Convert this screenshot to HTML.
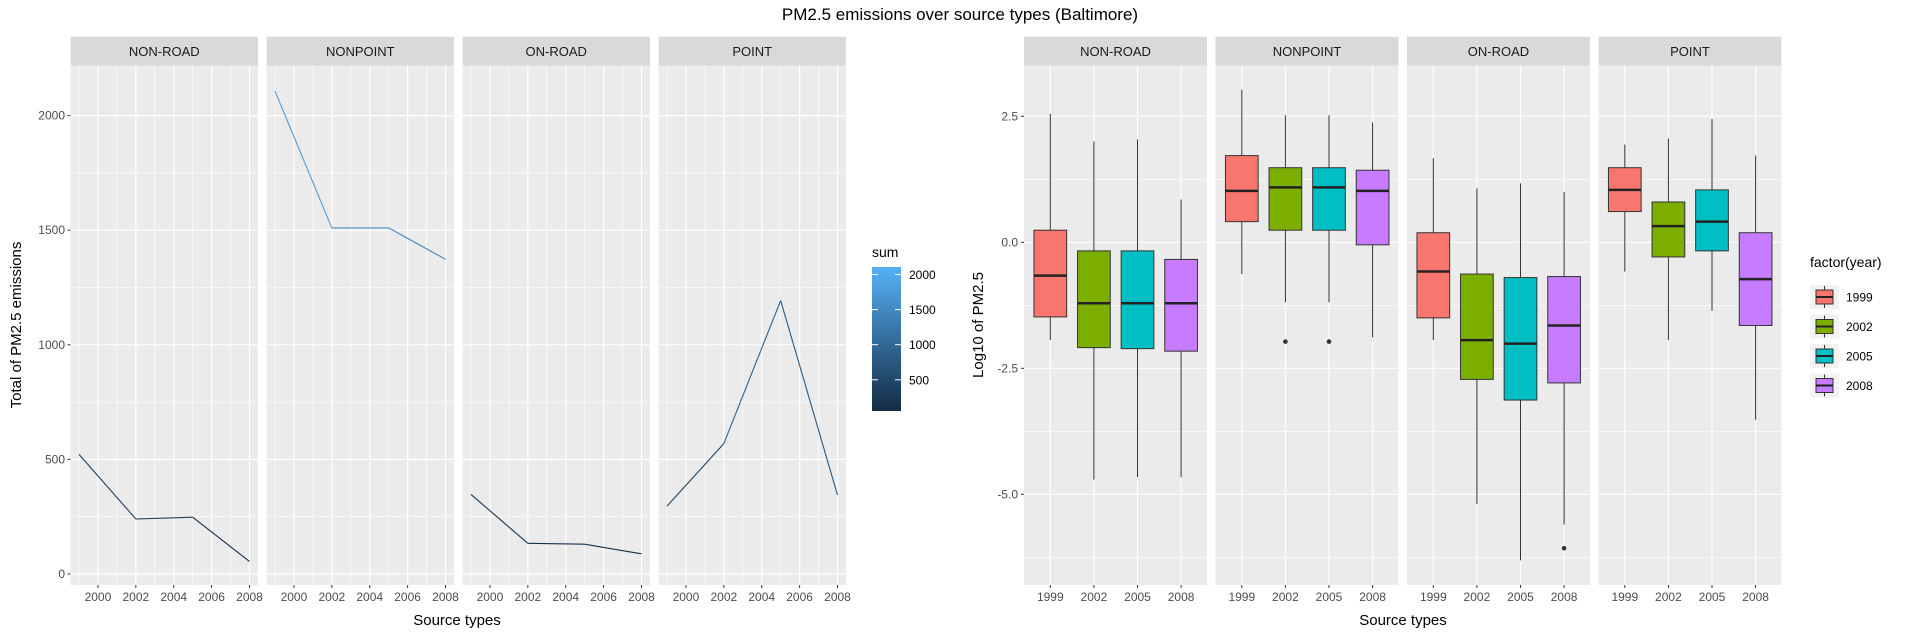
<!DOCTYPE html>
<html><head><meta charset="utf-8"><style>
html,body{margin:0;padding:0;background:#fff;}
svg{display:block;font-family:"Liberation Sans",Arial,sans-serif;}
</style></head><body>
<svg id="chart" width="1920" height="640" viewBox="0 0 1920 640" xmlns="http://www.w3.org/2000/svg">
<defs><linearGradient id="sumgrad" x1="0" y1="1" x2="0" y2="0"><stop offset="0" stop-color="#132B43"/><stop offset="1" stop-color="#56B1F7"/></linearGradient></defs>
</svg>
<script>
const sources = ["NON-ROAD","NONPOINT","ON-ROAD","POINT"];
const years = [1999,2002,2005,2008];
const yearTicks = [2000,2002,2004,2006,2008];
const sumNonRoad = [522,240,248,55];
const sumNonPoint = [2107,1510,1510,1373];
const sumOnRoad = [347,134,130,88];
const sumPoint = [296,569,1193,345];
const sumTicks = [0,500,1000,1500,2000];
const legendTicks = [500,1000,1500,2000];
// box stats per source: [low, q1, median, q3, high]
const boxNonRoad = [[-1.94,-1.48,-0.66,0.24,2.55],[-4.71,-2.09,-1.21,-0.17,2.0],[-4.66,-2.11,-1.21,-0.17,2.04],[-4.66,-2.16,-1.21,-0.34,0.85]];
const boxNonPoint = [[-0.63,0.41,1.02,1.72,3.03],[-1.19,0.24,1.09,1.48,2.52],[-1.19,0.24,1.09,1.48,2.52],[-1.89,-0.05,1.02,1.43,2.38]];
const boxOnRoad = [[-1.94,-1.5,-0.58,0.19,1.67],[-5.19,-2.72,-1.94,-0.63,1.07],[-6.31,-3.13,-2.01,-0.7,1.17],[-5.6,-2.79,-1.65,-0.68,1.0]];
const boxPoint = [[-0.58,0.61,1.04,1.48,1.94],[-1.94,-0.29,0.32,0.8,2.06],[-1.36,-0.17,0.41,1.04,2.45],[-3.52,-1.65,-0.73,0.19,1.72]];
const outNonPoint = [[],[-1.97],[-1.97],[]];
const outOnRoad = [[],[],[],[-6.07]];
const logTicks = [-5,-2.5,0,2.5];
const logTickLabels = ["-5.0","-2.5","0.0","2.5"];
const fills = ["#F8766D","#7CAE00","#00BFC4","#C77CFF"];

const svg = document.getElementById('chart');
const NS = "http://www.w3.org/2000/svg";
function mk(tag, attrs, parent, text){
  const e = document.createElementNS(NS, tag);
  for (const k in attrs) e.setAttribute(k, attrs[k]);
  if (text !== undefined) e.textContent = text;
  (parent||svg).appendChild(e);
  return e;
}
const sums = [sumNonRoad,sumNonPoint,sumOnRoad,sumPoint];
const boxes = [boxNonRoad,boxNonPoint,boxOnRoad,boxPoint];
const outs = [[[],[],[],[]],outNonPoint,outOnRoad,[[],[],[],[]]];
const TOP=66, BOT=585;

let t = mk('text',{x:960,y:20,'text-anchor':'middle','font-size':17,fill:'#000'},svg,'PM2.5 emissions over source types (Baltimore)');



// ---------- LEFT: line facets ----------
const yL = v => 574 - v*(57.3/250);
const LPW = 187.5, LX0 = 70.5, LSTEP = 196;
const allSums = sums.flat();
const sMin = Math.min(...allSums), sMax = Math.max(...allSums);
function lerpCol(v){
  const a=[0x13,0x2B,0x43], b=[0x56,0xB1,0xF7];
  const f=(v-sMin)/(sMax-sMin);
  return 'rgb('+a.map((c,i)=>Math.round(c+(b[i]-c)*f)).join(',')+')';
}
sources.forEach((src,p)=>{
  const px = LX0 + p*LSTEP;
  const xL = yr => px + 8.5 + (yr-1999)*(LPW-17)/9;
  const g = mk('g',{});
  
  
  mk('rect',{x:px,y:36.7,width:LPW,height:29,fill:'#D9D9D9'},g);
  const st = mk('text',{x:px+LPW/2,y:56,'text-anchor':'middle','font-size':13,fill:'#1A1A1A'},g,src);
  
  
  mk('rect',{x:px,y:TOP,width:LPW,height:BOT-TOP,fill:'#EBEBEB'},g);
  for (let v=250; v<2250; v+=500){ if (yL(v)>TOP) mk('line',{x1:px,x2:px+LPW,y1:yL(v),y2:yL(v),stroke:'#fff','stroke-width':0.6},g); }
  for (let yr=1999; yr<2009; yr+=2) mk('line',{x1:xL(yr),x2:xL(yr),y1:TOP,y2:BOT,stroke:'#fff','stroke-width':0.6},g);
  sumTicks.forEach(v=>mk('line',{x1:px,x2:px+LPW,y1:yL(v),y2:yL(v),stroke:'#fff','stroke-width':1.2},g));
  yearTicks.forEach(yr=>{
    mk('line',{x1:xL(yr),x2:xL(yr),y1:TOP,y2:BOT,stroke:'#fff','stroke-width':1.2},g);
    mk('line',{x1:xL(yr),x2:xL(yr),y1:BOT,y2:BOT+3,stroke:'#333'},g);
    const tl = mk('text',{x:xL(yr),y:BOT+16,'text-anchor':'middle','font-size':12,fill:'#4D4D4D'},g,String(yr));
    
    
  });
  const d = sums[p];
  for (let i=0;i<years.length-1;i++){
    const seg = mk('line',{x1:xL(years[i]),y1:yL(d[i]),x2:xL(years[i+1]),y2:yL(d[i+1]),stroke:lerpCol((d[i]+d[i+1])/2),'stroke-width':1.1},g);
    
    
  }
});
sumTicks.forEach(v=>{
  mk('line',{x1:67.5,x2:70.5,y1:yL(v),y2:yL(v),stroke:'#333'});
  const tl = mk('text',{x:65,y:yL(v)+4,'text-anchor':'end','font-size':12,fill:'#4D4D4D'},svg,String(v));
  
  
});
t = mk('text',{x:0,y:0,transform:'translate(21,325) rotate(-90)','text-anchor':'middle','font-size':15,fill:'#000'},svg,'Total of PM2.5 emissions');


t = mk('text',{x:457,y:625,'text-anchor':'middle','font-size':15,fill:'#000'},svg,'Source types');


// colourbar legend
const lg = mk('g',{});


mk('text',{x:872,y:257,'font-size':14,fill:'#000'},lg,'sum');
const cbY = v => 411 - (v-sMin)*(144/(sMax-sMin));
mk('rect',{x:872,y:267,width:29,height:144,fill:'url(#sumgrad)'},lg);
legendTicks.forEach(v=>{
  mk('line',{x1:872,x2:878,y1:cbY(v),y2:cbY(v),stroke:'#fff'},lg);
  mk('line',{x1:895,x2:901,y1:cbY(v),y2:cbY(v),stroke:'#fff'},lg);
  mk('text',{x:909,y:cbY(v)+4.5,'font-size':12,fill:'#000'},lg,String(v));
});

// ---------- RIGHT: box facets ----------
const yR = v => 242.3 - v*50.4;
const RPW = 183, RX0 = 1024, RSTEP = 191.5;
sources.forEach((src,p)=>{
  const px = RX0 + p*RSTEP;
  const xR = i => px + 26.3 + i*43.6;
  const g = mk('g',{});
  
  
  mk('rect',{x:px,y:36.7,width:RPW,height:29,fill:'#D9D9D9'},g);
  const st = mk('text',{x:px+RPW/2,y:56,'text-anchor':'middle','font-size':13,fill:'#1A1A1A'},g,src);
  
  
  mk('rect',{x:px,y:TOP,width:RPW,height:BOT-TOP,fill:'#EBEBEB'},g);
  [-6.25,-3.75,-1.25,1.25].forEach(v=>mk('line',{x1:px,x2:px+RPW,y1:yR(v),y2:yR(v),stroke:'#fff','stroke-width':0.6},g));
  logTicks.forEach(v=>mk('line',{x1:px,x2:px+RPW,y1:yR(v),y2:yR(v),stroke:'#fff','stroke-width':1.2},g));
  years.forEach((yr,i)=>{
    mk('line',{x1:xR(i),x2:xR(i),y1:TOP,y2:BOT,stroke:'#fff','stroke-width':1.2},g);
    mk('line',{x1:xR(i),x2:xR(i),y1:BOT,y2:BOT+3,stroke:'#333'},g);
    const tl = mk('text',{x:xR(i),y:BOT+16,'text-anchor':'middle','font-size':12,fill:'#4D4D4D'},g,String(yr));
    
    
  });
  boxes[p].forEach((b,i)=>{
    const cx = xR(i), w = 32.7;
    const bg = mk('g',{},g);
    
    
    mk('line',{x1:cx,x2:cx,y1:yR(b[4]),y2:yR(b[0]),stroke:'#333','stroke-width':1},bg);
    mk('rect',{x:cx-w/2,y:yR(b[3]),width:w,height:yR(b[1])-yR(b[3]),fill:fills[i],stroke:'#333','stroke-width':1},bg);
    mk('line',{x1:cx-w/2,x2:cx+w/2,y1:yR(b[2]),y2:yR(b[2]),stroke:'#222','stroke-width':2.5},bg);
    outs[p][i].forEach(o=>mk('circle',{cx:cx,cy:yR(o),r:2.3,fill:'#333'},bg));
  });
});
logTicks.forEach((v,i)=>{
  mk('line',{x1:1021,x2:1024,y1:yR(v),y2:yR(v),stroke:'#333'});
  const tl = mk('text',{x:1018,y:yR(v)+4,'text-anchor':'end','font-size':12,fill:'#4D4D4D'},svg,logTickLabels[i]);
  
  
});
t = mk('text',{x:0,y:0,transform:'translate(983,325) rotate(-90)','text-anchor':'middle','font-size':15,fill:'#000'},svg,'Log10 of PM2.5');


t = mk('text',{x:1403,y:625,'text-anchor':'middle','font-size':15,fill:'#000'},svg,'Source types');


const yl = mk('g',{});


mk('text',{x:1810,y:267,'font-size':14,fill:'#000'},yl,'factor(year)');
years.forEach((yr,i)=>{
  const ky = 285 + i*29.5;
  const e = mk('g',{},yl);
  
  
  mk('rect',{x:1810,y:ky,width:29,height:24,fill:'#F2F2F2'},e);
  mk('line',{x1:1824.5,x2:1824.5,y1:ky+1,y2:ky+23,stroke:'#333'},e);
  mk('rect',{x:1816,y:ky+5,width:17,height:14,fill:fills[i],stroke:'#333'},e);
  mk('line',{x1:1816,x2:1833,y1:ky+12,y2:ky+12,stroke:'#222','stroke-width':2},e);
  mk('text',{x:1846,y:ky+16.5,'font-size':12,fill:'#000'},e,String(yr));
});
</script>
</body></html>
